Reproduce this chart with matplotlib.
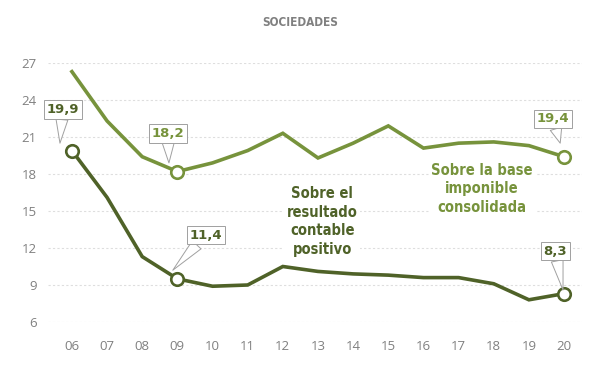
import matplotlib
matplotlib.use("Agg")
import matplotlib.pyplot as plt

years = ["06", "07", "08", "09", "10", "11", "12", "13", "14", "15", "16", "17", "18", "19", "20"]
base_imponible = [26.3, 22.3, 19.4, 18.2, 18.9, 19.9, 21.3, 19.3, 20.5, 21.9, 20.1, 20.5, 20.6, 20.3, 19.4]
resultado_contable = [19.9, 16.1, 11.3, 9.5, 8.9, 9.0, 10.5, 10.1, 9.9, 9.8, 9.6, 9.6, 9.1, 7.8, 8.3]
yticks = [6, 9, 12, 15, 18, 21, 24, 27]

LIGHT = "#77933C"
DARK = "#4F6228"
GRAY = "#808080"

fig = plt.figure(figsize=(6.0, 3.79), dpi=100)
ax = fig.add_axes([48 / 600, 1 - 322 / 379, (582 - 48) / 600, (322 - 63) / 379])

x = list(range(len(years)))
ax.plot(x, base_imponible, color=LIGHT, lw=2.6, solid_joinstyle="miter", zorder=3)
ax.plot(x, resultado_contable, color=DARK, lw=2.6, solid_joinstyle="miter", zorder=3)

hl_light = [3, 14]
hl_dark = [0, 3, 14]
ax.plot([x[i] for i in hl_light], [base_imponible[i] for i in hl_light], "o", ms=9,
        mfc="white", mec=LIGHT, mew=1.9, zorder=4, clip_on=False)
ax.plot([x[i] for i in hl_dark], [resultado_contable[i] for i in hl_dark], "o", ms=9,
        mfc="white", mec=DARK, mew=1.9, zorder=4, clip_on=False)

ax.set_xlim(-0.68, 14.51)
ax.set_ylim(6, 27)
ax.set_yticks(yticks)
ax.set_xticks(x)
ax.set_xticklabels(years)
for s in ax.spines.values():
    s.set_visible(False)
ax.tick_params(axis="both", length=0, colors=GRAY, labelsize=9.5)
ax.tick_params(axis="x", pad=13)
ax.tick_params(axis="y", pad=8)
for lab in ax.get_xticklabels() + ax.get_yticklabels():
    lab.set_fontfamily("Open Sans")
ax.yaxis.grid(True, color="#dedede", lw=0.8, linestyle=(0, (2, 2)))
ax.set_axisbelow(True)

fig.text(0.5, 1 - 23 / 379, "SOCIEDADES", ha="center", va="center", fontsize=8.5,
         fontweight="bold", color=GRAY, family="DejaVu Sans", fontstretch="condensed")

def callout(text, tip, box, color):
    ax.annotate(text, xy=tip, xytext=box, ha="center", va="center",
                fontsize=9.5, fontweight="bold", color=color, family="DejaVu Sans",
                bbox=dict(boxstyle="square,pad=0.22", fc="white", ec="#a0a0a0", lw=0.7),
                arrowprops=dict(arrowstyle="wedge,tail_width=0.9,shrink_factor=0.5",
                                fc="white", ec="#a0a0a0", lw=0.7, shrinkA=0, shrinkB=0),
                zorder=5, annotation_clip=False)

callout("19,9", (-0.34, 20.5), (-0.26, 23.2), DARK)
callout("18,2", (2.76, 18.9), (2.73, 21.3), LIGHT)
callout("11,4", (2.87, 10.2), (3.81, 13.05), DARK)
callout("19,4", (13.89, 20.5), (13.69, 22.46), LIGHT)
callout("8,3", (13.97, 8.6), (13.75, 11.75), DARK)

ax.text(7.12, 14.15, "Sobre el\nresultado\ncontable\npositivo", ha="center", va="center",
        fontsize=10.5, fontweight="bold", color=DARK, family="DejaVu Sans",
        fontstretch="condensed", linespacing=1.3,
        bbox=dict(fc="white", ec="none", pad=2), zorder=2)
ax.text(11.67, 16.8, "Sobre la base\nimponible\nconsolidada", ha="center", va="center",
        fontsize=10.5, fontweight="bold", color=LIGHT, family="DejaVu Sans",
        fontstretch="condensed", linespacing=1.3,
        bbox=dict(fc="white", ec="none", pad=2), zorder=2)

fig.savefig("out.png", dpi=100)
